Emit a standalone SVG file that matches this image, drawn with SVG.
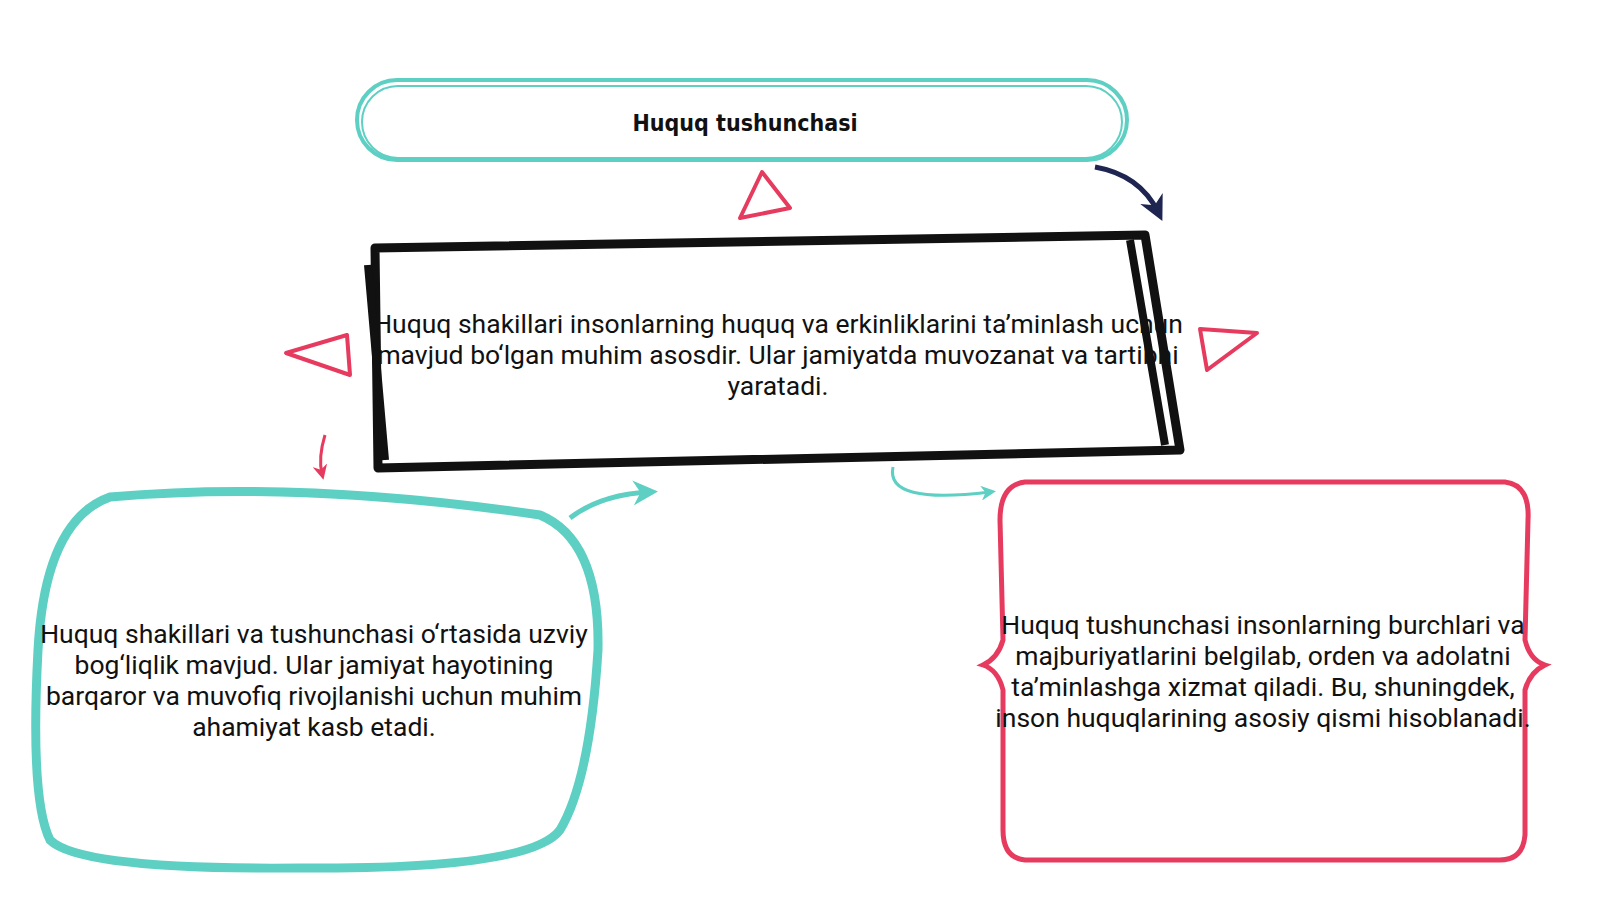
<svg xmlns="http://www.w3.org/2000/svg" width="1600" height="900" viewBox="0 0 1600 900">
<style>
.t{font-family:Roboto,"Liberation Sans",sans-serif;font-size:26.5px;fill:#111;text-anchor:middle}
.tri{fill:none;stroke:#E63B5E;stroke-width:4;stroke-linejoin:round}
</style>
<defs>
<marker id="an" viewBox="0 0 10 10" refX="6" refY="5" markerWidth="5" markerHeight="5" orient="auto"><path d="M0,0 L10,5 L0,10 L3,5z" fill="#1E2550"/></marker>
<marker id="ar" viewBox="0 0 10 10" refX="6" refY="5" markerWidth="5" markerHeight="5" orient="auto"><path d="M0,0 L10,5 L0,10 L3,5z" fill="#E63B5E"/></marker>
<marker id="at" viewBox="0 0 10 10" refX="6" refY="5" markerWidth="5" markerHeight="5" orient="auto"><path d="M0,0 L10,5 L0,10 L3,5z" fill="#5ECFC3"/></marker>
</defs>
<rect width="1600" height="900" fill="#fff"/>
<g id="title">
<rect x="357" y="80" width="770" height="80" rx="40" fill="#fff" stroke="#5ECFC3" stroke-width="4"/>
<rect x="362" y="86" width="760" height="72" rx="36" fill="none" stroke="#5ECFC3" stroke-width="2"/>
<text x="745" y="131" style="font-family:'DejaVu Sans Condensed','DejaVu Sans',sans-serif;font-weight:bold;font-size:23px;fill:#111;text-anchor:middle;font-stretch:condensed">Huquq tushunchasi</text>
</g>
<g id="center">
<path d="M375,248 L1145,235 L1180,450 L378,468 Z" fill="#fff" stroke="#111" stroke-width="9" stroke-linejoin="round"/>
<path d="M368,265 L385,460 M1130,240 L1165,445" stroke="#111" stroke-width="8" fill="none"/>
<text class="t" x="778" y="333">Huquq shakillari insonlarning huquq va erkinliklarini ta’minlash uchun</text>
<text class="t" x="778" y="364">mavjud bo‘lgan muhim asosdir. Ular jamiyatda muvozanat va tartibni</text>
<text class="t" x="778" y="395">yaratadi.</text>
</g>
<g id="left">
<path d="M110,497 Q300,480 540,515 Q600,540 598,650 Q590,780 560,830 Q530,870 300,868 Q80,870 50,840 Q30,800 38,650 Q45,520 110,497 Z" fill="#fff" stroke="#5ECFC3" stroke-width="9"/>
<text class="t" x="314" y="643">Huquq shakillari va tushunchasi o‘rtasida uzviy</text>
<text class="t" x="314" y="674">bog‘liqlik mavjud. Ular jamiyat hayotining</text>
<text class="t" x="314" y="705">barqaror va muvofiq rivojlanishi uchun muhim</text>
<text class="t" x="314" y="736">ahamiyat kasb etadi.</text>
</g>
<g id="right">
<path d="M1025,482 L1505,482 Q1530,485 1528,520 L1525,640 Q1530,660 1545,665 Q1530,672 1525,690 L1525,835 Q1523,860 1500,860 L1025,860 Q1003,858 1003,830 L1003,690 Q998,670 983,665 Q998,658 1003,640 L1000,520 Q1000,485 1025,482 Z" fill="#fff" stroke="#E63B5E" stroke-width="5"/>
<text class="t" x="1263" y="634">Huquq tushunchasi insonlarning burchlari va</text>
<text class="t" x="1263" y="665">majburiyatlarini belgilab, orden va adolatni</text>
<text class="t" x="1263" y="696">ta’minlashga xizmat qiladi. Bu, shuningdek,</text>
<text class="t" x="1263" y="727">inson huquqlarining asosiy qismi hisoblanadi.</text>
</g>
<g id="decor">
<polygon class="tri" points="762,172 790,208 740,218"/>
<polygon class="tri" points="347,335 350,375 286,353"/>
<polygon class="tri" points="1200,329 1257,333 1207,370"/>
</g>
<g id="connectors" fill="none">
<path d="M1095,167 Q1140,175 1158,212" stroke="#1E2550" stroke-width="5" marker-end="url(#an)"/>
<path d="M325,435 Q318,458 322,474" stroke="#E63B5E" stroke-width="3" marker-end="url(#ar)"/>
<path d="M570,518 Q600,495 648,492" stroke="#5ECFC3" stroke-width="5" marker-end="url(#at)"/>
<path d="M893,467 Q885,505 990,492" stroke="#5ECFC3" stroke-width="3" marker-end="url(#at)"/>
</g>
</svg>
